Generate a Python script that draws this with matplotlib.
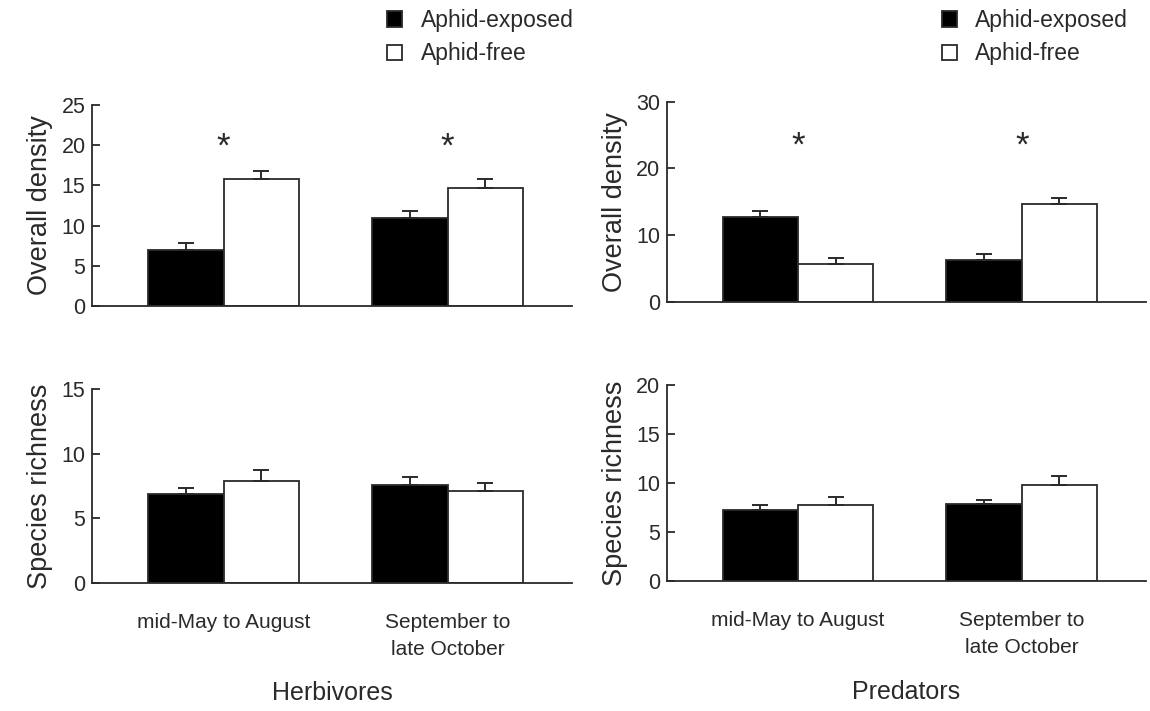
import numpy as np
import matplotlib
matplotlib.use("Agg")
import matplotlib.pyplot as plt

plt.rcParams['font.family'] = ['Liberation Sans', 'DejaVu Sans']

# data
periods = ["mid-May to August", "September to\nlate October"]
groups = ["Herbivores", "Predators"]
series = ["Aphid-exposed", "Aphid-free"]

herb_density_exposed = [7.0, 11.0]
herb_density_exposed_se = [0.85, 0.85]
herb_density_free = [15.8, 14.7]
herb_density_free_se = [1.0, 1.05]

pred_density_exposed = [12.7, 6.2]
pred_density_exposed_se = [0.85, 0.9]
pred_density_free = [5.7, 14.7]
pred_density_free_se = [0.85, 0.85]

herb_rich_exposed = [6.9, 7.6]
herb_rich_exposed_se = [0.45, 0.6]
herb_rich_free = [7.9, 7.1]
herb_rich_free_se = [0.85, 0.65]

pred_rich_exposed = [7.2, 7.8]
pred_rich_exposed_se = [0.55, 0.4]
pred_rich_free = [7.75, 9.75]
pred_rich_free_se = [0.8, 1.0]

# heights of the significance stars
stars_herb = [19.8, 19.8]
stars_pred = [23.3, 23.3]

ink = '#2a2a2a'
fig = plt.figure(figsize=(11.5, 7.11), dpi=100)

panels = [
    # rect, exposed, exposed se, free, free se, ylim, yticks, ylabel
    ([0.0804, 0.5696, 0.417, 0.2827], herb_density_exposed, herb_density_exposed_se,
     herb_density_free, herb_density_free_se, 25, [0, 5, 10, 15, 20, 25], "Overall density"),
    ([0.580, 0.5757, 0.4165, 0.2813], pred_density_exposed, pred_density_exposed_se,
     pred_density_free, pred_density_free_se, 30, [0, 10, 20, 30], "Overall density"),
    ([0.0804, 0.1805, 0.417, 0.2724], herb_rich_exposed, herb_rich_exposed_se,
     herb_rich_free, herb_rich_free_se, 15, [0, 5, 10, 15], "Species richness"),
    ([0.580, 0.1833, 0.4165, 0.2752], pred_rich_exposed, pred_rich_exposed_se,
     pred_rich_free, pred_rich_free_se, 20, [0, 5, 10, 15, 20], "Species richness"),
]

x = np.arange(len(periods))
w = 0.337
axes = []
for rect, ex, ex_se, fr, fr_se, top, ticks, ylab in panels:
    ax = fig.add_axes(rect)
    axes.append(ax)
    ax.bar(x - w / 2, ex, w, color='black', edgecolor=ink, linewidth=1.3,
           yerr=[[0] * len(ex), ex_se], capsize=6,
           error_kw=dict(ecolor=ink, elinewidth=1.4, capthick=1.4), label=series[0])
    ax.bar(x + w / 2, fr, w, color='white', edgecolor=ink, linewidth=1.3,
           yerr=[[0] * len(fr), fr_se], capsize=6,
           error_kw=dict(ecolor=ink, elinewidth=1.4, capthick=1.4), label=series[1])
    ax.set_xlim(-0.585, 1.555)
    ax.set_ylim(0, top)
    ax.set_yticks(ticks)
    ax.set_ylabel(ylab, fontsize=19.5, color=ink, labelpad=6)
    ax.spines['top'].set_visible(False)
    ax.spines['right'].set_visible(False)
    for s in ['left', 'bottom']:
        ax.spines[s].set_color(ink)
        ax.spines[s].set_linewidth(1.3)
    ax.tick_params(axis='y', direction='in', length=6, width=1.3, color=ink,
                   labelsize=15.5, labelcolor=ink, pad=5)
    ax.set_xticks(x)
    ax.tick_params(axis='x', length=0, labelsize=15, labelcolor=ink, pad=22)

axes[0].set_xticklabels([])
axes[1].set_xticklabels([])
for ax in axes[2:]:
    ax.set_xticklabels(periods, linespacing=1.5, va='top')

for i, y in enumerate(stars_herb):
    axes[0].text(x[i], y, "*", ha='center', va='center', fontsize=25, color=ink)
for i, y in enumerate(stars_pred):
    axes[1].text(x[i], y, "*", ha='center', va='center', fontsize=25, color=ink)

# legends above each column
h, l = axes[0].get_legend_handles_labels()
for lx in [0.323, 0.805]:
    fig.legend(h, l, loc='upper left', bbox_to_anchor=(lx, 1.01), frameon=False,
               fontsize=16.5, handlelength=0.65, handleheight=0.65,
               handletextpad=0.8, labelspacing=0.45, borderpad=0.2,
               labelcolor=ink)

axes[2].text(0.5, -0.57, groups[0], transform=axes[2].transAxes, ha='center',
             va='center', fontsize=18, color=ink)
axes[3].text(0.5, -0.57, groups[1], transform=axes[3].transAxes, ha='center',
             va='center', fontsize=18, color=ink)

fig.savefig("out.png", dpi=100, facecolor='white')
